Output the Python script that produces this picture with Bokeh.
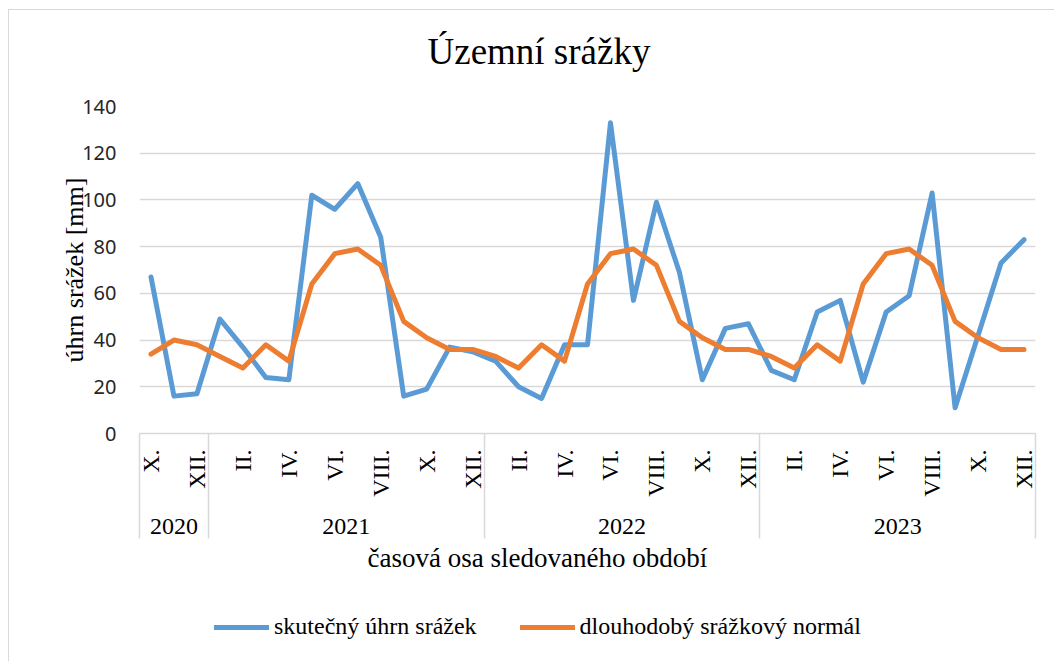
import math
from bokeh.plotting import figure
from bokeh.layouts import column
from bokeh.models import Range1d, LinearAxis, FixedTicker, Title, Legend, LegendItem
from bokeh.embed import file_html
from bokeh.resources import INLINE

# ---- data ----
years = ["2020", "2021", "2022", "2023"]
months_2020 = ["X.", "XI.", "XII."]
months_full = ["I.", "II.", "III.", "IV.", "V.", "VI.", "VII.", "VIII.", "IX.", "X.", "XI.", "XII."]

actual_2020 = [67, 16, 17]
actual_2021 = [49, 37, 24, 23, 102, 96, 107, 84, 16, 19, 37, 35]
actual_2022 = [31, 20, 15, 38, 38, 133, 57, 99, 69, 23, 45, 47]
actual_2023 = [27, 23, 52, 57, 22, 52, 59, 103, 11, 42, 73, 83]

normal_2020 = [34, 40, 38]
normal_2021 = [33, 28, 38, 31, 64, 77, 79, 72, 48, 41, 36, 36]
normal_2022 = [33, 28, 38, 31, 64, 77, 79, 72, 48, 41, 36, 36]
normal_2023 = [33, 28, 38, 31, 64, 77, 79, 72, 48, 41, 36, 36]

y_ticks = [0, 20, 40, 60, 80, 100, 120, 140]

series_actual_name = "skutečný úhrn srážek"
series_normal_name = "dlouhodobý srážkový normál"
title_text = "Územní srážky"
x_title = "časová osa sledovaného období"
y_title = "úhrn srážek [mm]"

# ---- derived ----
month_labels = months_2020 + months_full + months_full + months_full
actual = actual_2020 + actual_2021 + actual_2022 + actual_2023
normal = normal_2020 + normal_2021 + normal_2022 + normal_2023
year_counts = [len(months_2020), len(months_full), len(months_full), len(months_full)]
n = len(actual)
xs = list(range(n))

boundaries = [-0.5]
centers = []
start = 0
for c in year_counts:
    centers.append(start + (c - 1) / 2)
    start += c
    boundaries.append(start - 0.5)

shown = list(range(0, n, 2))

SERIF = "Liberation Serif"
GRID = "#D9D9D9"
BLUE = "#5B9BD5"
ORANGE = "#ED7D31"

p = figure(width=1045, height=590, x_range=Range1d(-0.5, n - 0.5), y_range=Range1d(0, 140),
           output_backend="svg", toolbar_location=None, x_axis_type=None,
           min_border_left=130, min_border_right=19, min_border_top=96, min_border_bottom=167)
p.background_fill_color = "white"
p.border_fill_color = "white"
p.outline_line_color = None
p.xgrid.visible = False
p.ygrid.grid_line_color = GRID
p.ygrid.grid_line_width = 1.5
p.ygrid.ticker = FixedTicker(ticks=y_ticks)

yax = p.yaxis[0]
yax.ticker = FixedTicker(ticks=y_ticks)
yax.axis_line_color = None
yax.major_tick_line_color = None
yax.minor_tick_line_color = None
yax.major_label_standoff = 17
yax.major_label_text_font = "Noto Sans"
yax.major_label_text_font_size = "20px"
yax.major_label_text_color = "#262626"
yax.axis_label = y_title
yax.axis_label_text_font = SERIF
yax.axis_label_text_font_size = "26px"
yax.axis_label_text_font_style = "normal"
yax.axis_label_text_color = "black"
yax.axis_label_standoff = -10

r1 = p.line(xs, actual, line_color=BLUE, line_width=5, line_join="round", line_cap="round")
r2 = p.line(xs, normal, line_color=ORANGE, line_width=5, line_join="round", line_cap="round")

month_axis = LinearAxis(
    ticker=FixedTicker(ticks=shown),
    major_label_overrides={i: month_labels[i] for i in shown},
    major_label_orientation=math.pi / 2,
    major_tick_out=0, major_tick_in=0, minor_tick_out=0, minor_tick_in=0,
    axis_line_color=GRID, axis_line_width=1.5,
    major_label_standoff=16,
    major_label_text_font=SERIF, major_label_text_font_size="24px",
    major_label_text_color="black")
p.add_layout(month_axis, "below")

year_axis = LinearAxis(
    ticker=FixedTicker(ticks=centers),
    major_label_overrides={c: y for c, y in zip(centers, years)},
    major_label_orientation="horizontal",
    major_tick_out=0, major_tick_in=0, minor_tick_out=0, minor_tick_in=0,
    axis_line_color=None,
    major_label_standoff=19,
    major_label_text_font=SERIF, major_label_text_font_size="24px",
    major_label_text_color="black")
p.add_layout(year_axis, "below")

sep_axis = LinearAxis(
    ticker=FixedTicker(ticks=[], minor_ticks=boundaries),
    major_tick_out=0, major_tick_in=0, minor_tick_out=2, minor_tick_in=103,
    minor_tick_line_color=GRID, minor_tick_line_width=1.5,
    axis_line_color=None, major_label_standoff=0,
    major_label_text_font_size="1px")
p.add_layout(sep_axis, "below")

xt = Title(text=x_title, align="left", offset=228, text_font=SERIF, text_font_size="27px",
           text_font_style="normal", text_color="black", standoff=5)
p.add_layout(xt, "below")

spacer = Title(text=" ", align="left", text_font=SERIF, text_font_size="24px",
               text_color="white", standoff=7)
p.add_layout(spacer, "above")
tt = Title(text=title_text, align="left", offset=288, text_font=SERIF, text_font_size="37px",
           text_font_style="normal", text_color="black", standoff=0)
p.add_layout(tt, "above")

# legend strip (separate figure so the legend is not clipped by the main frame)
lg = figure(width=1045, height=61, x_range=Range1d(-10, -9), y_range=Range1d(-10, -9),
            output_backend="svg", toolbar_location=None, x_axis_type=None, y_axis_type=None,
            min_border=0)
lg.outline_line_color = None
lg.background_fill_color = "white"
lg.border_fill_color = "white"
l1 = lg.line(xs, actual, line_color=BLUE, line_width=5, line_cap="round")
l2 = lg.line(xs, normal, line_color=ORANGE, line_width=5, line_cap="round")
legend = Legend(items=[LegendItem(label=series_actual_name, renderers=[l1]),
                       LegendItem(label=series_normal_name, renderers=[l2])],
                orientation="horizontal", location=(75, 21), glyph_width=55, glyph_height=24,
                label_standoff=5, spacing=43, padding=0, margin=0, border_line_color=None,
                background_fill_alpha=0, label_text_font=SERIF, label_text_font_size="24px",
                label_text_color="black", label_height=24)
lg.add_layout(legend, "center")

layout = column(p, lg, spacing=0,
                styles={"margin-left": "8px", "margin-top": "9px",
                        "border-left": "1px solid #D9D9D9", "border-top": "1px solid #D9D9D9"})

open("out.html", "w").write(file_html(layout, INLINE))
